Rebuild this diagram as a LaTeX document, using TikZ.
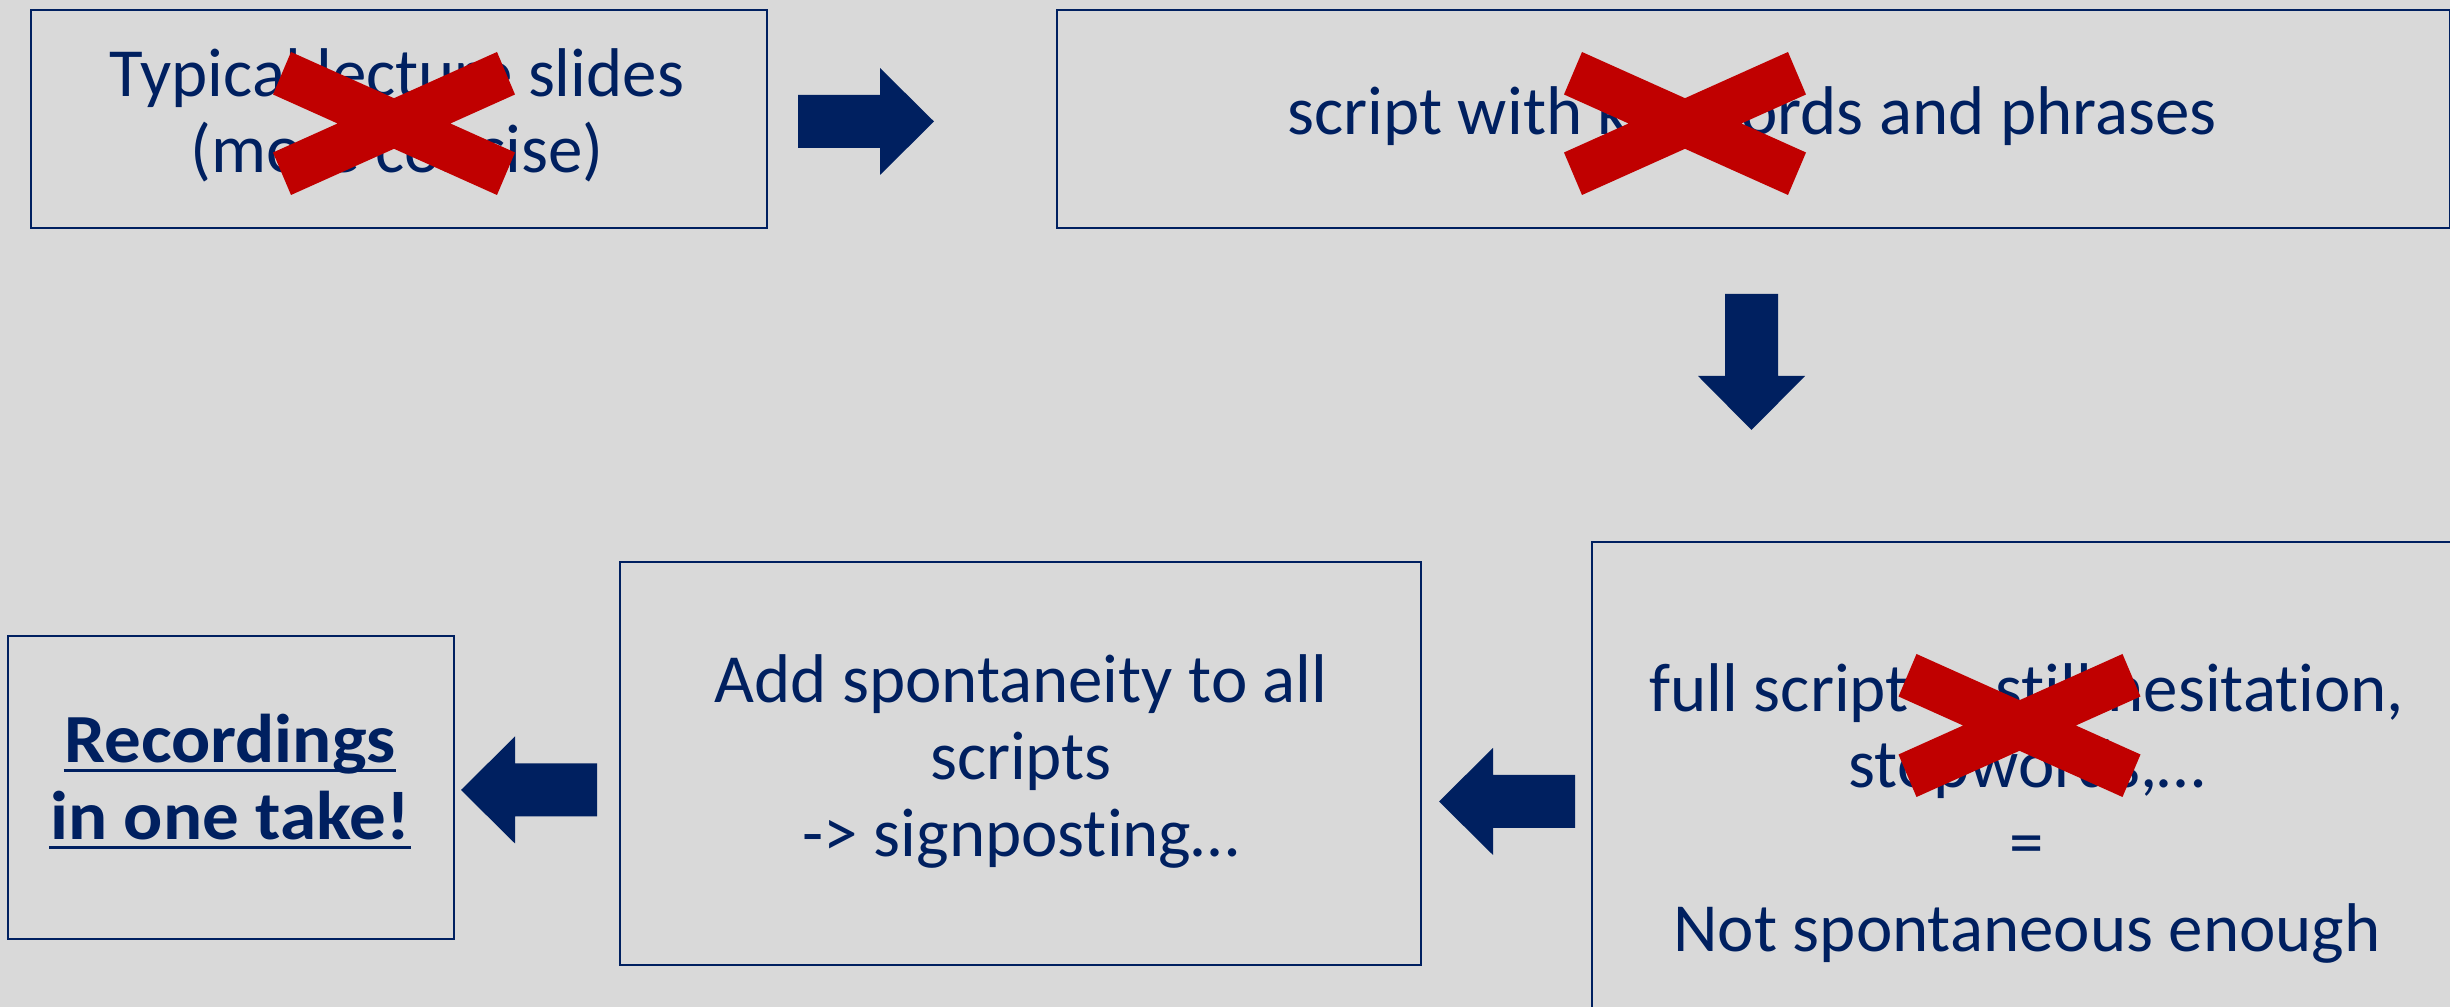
\documentclass[tikz,border=0pt]{standalone}
\usepackage{fontspec}
\setmainfont{Carlito}[Ligatures={CommonOff,ContextualOff}]
\newfontfamily\widebold{Carlito}[Ligatures={CommonOff,ContextualOff},FakeStretch=1.06]
\definecolor{navy}{HTML}{002060}
\definecolor{xred}{HTML}{C00000}
\definecolor{bg}{HTML}{D9D9D9}
\begin{document}
\begin{tikzpicture}[x=0.01cm,y=-0.01cm,
  box/.style={draw=navy,line width=0.02cm,inner sep=0pt,anchor=north west},
  txt/.style={text=navy,inner sep=0pt,anchor=base,font=\fontsize{19.6pt}{23pt}\selectfont},
  btxt/.style={txt,font=\widebold\fontsize{19.6pt}{23pt}\selectfont\bfseries},
  ulne/.style={draw=navy,line width=0.03cm},
  blockarrow/.pic={\fill[navy] (0,-26.5) -- (82,-26.5) -- (82,-53.5) -- (136,0) -- (82,53.5) -- (82,26.5) -- (0,26.5) -- cycle;},
  xcross/.pic={\fill[xred] (-103,-71.5) -- (0,-25.3) -- (103,-71.5) -- (121,-29) -- (56.4,0) -- (121,29) -- (103,71.5) -- (0,25.3) -- (-103,71.5) -- (-121,29) -- (-56.4,0) -- (-121,-29) -- cycle;}]
\fill[bg] (0,0) rectangle (2450,1007);
\clip (0,0) rectangle (2450,1007);
% boxes
\node[box,minimum width=7.36cm,minimum height=2.18cm] (b1) at (30,9) {};
\node[box,minimum width=13.92cm,minimum height=2.18cm] (b2) at (1056,9) {};
\node[box,minimum width=8.72cm,minimum height=5.6cm] (b3) at (1591,541) {};
\node[box,minimum width=8.01cm,minimum height=4.03cm] (b4) at (619,561) {};
\node[box,minimum width=4.46cm,minimum height=3.03cm] (b5) at (7,635) {};
% texts
\node[txt] (t11) at (397,97) {Typical lecture slides};
\node[txt] (t12) at (397,173) {(more concise)};
\node[txt] (t21) at (1752,135) {script with keywords and phrases};
\node[txt] (t31) at (2027,712) {full script -> still hesitation,};
\node[txt] (t32) at (2027,788) {stopwords,…};
\node[txt] (t33) at (2027,866) {=};
\node[txt] (t34) at (2027,952) {Not spontaneous enough};
\node[txt] (t41) at (1021,703) {Add spontaneity to all};
\node[txt] (t42) at (1021,780) {scripts};
\node[txt] (t43) at (1021,857) {-> signposting…};
\node[btxt] (t51) at (230,763) {Recordings};
\node[btxt] (t52) at (230,840) {in one take!};
\draw[ulne] ([yshift=-0.08cm]t51.base west) -- ([yshift=-0.08cm]t51.base east);
\draw[ulne] ([yshift=-0.08cm]t52.base west) -- ([yshift=-0.08cm]t52.base east);
% crosses
\path (394,123.5) pic {xcross};
\path (1685,123.5) pic {xcross};
\path (2019.5,725.5) pic {xcross};
% block arrows
\path (798,121.5) pic {blockarrow};
\path (1751.5,294) pic[rotate=-90] {blockarrow};
\path (1575,801.5) pic[rotate=180] {blockarrow};
\path (597,790) pic[rotate=180] {blockarrow};
\end{tikzpicture}
\end{document}
